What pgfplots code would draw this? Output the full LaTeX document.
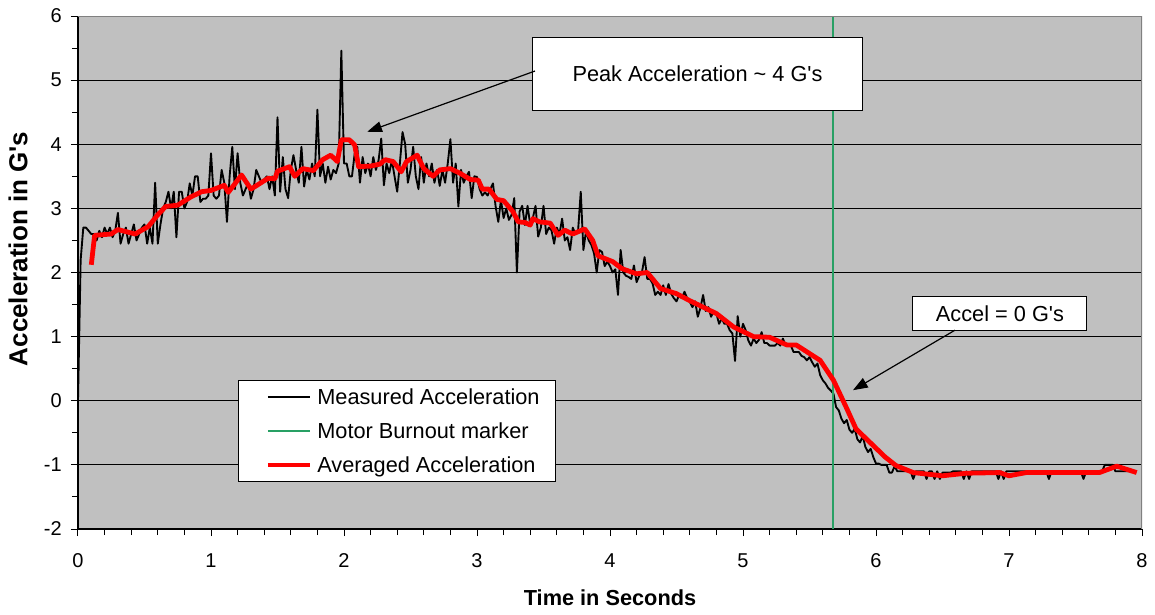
\documentclass[border=0pt]{standalone}
\usepackage{fontspec}
\setmainfont{Liberation Sans}
\usepackage{pgfplots}
\pgfplotsset{compat=1.18}
\usetikzlibrary{arrows.meta}
\definecolor{plotbg}{HTML}{C0C0C0}
\definecolor{mygreen}{RGB}{40,160,100}
\definecolor{bordergray}{HTML}{808080}
\begin{document}
\begin{tikzpicture}
\fill[white] (-58.5pt,-63.75pt) rectangle (807.75pt,396.75pt);
\useasboundingbox (-58.5pt,-63.75pt) rectangle (807.75pt,396.75pt);
\begin{axis}[
  at={(0pt,0pt)}, anchor=south west,
  scale only axis, width=798pt, height=384.75pt,
  xmin=0, xmax=8, ymin=-2, ymax=6,
  axis background/.style={fill=plotbg},
  axis x line*=bottom, axis y line*=left,
  axis line style={-, black, line width=0.9pt},
  xtick={0,...,8}, ytick={-2,...,6},
  minor x tick num=4, minor y tick num=1,
  tick align=outside, major tick length=5.25pt, minor tick length=4.5pt,
  tick style={black, line width=0.75pt},
  ymajorgrids, major grid style={black, line width=0.75pt},
  /pgf/number format/assume math mode=true,
  ticklabel style={font=\fontsize{15}{17}\selectfont},
  xticklabel style={inner sep=0pt, yshift=-12.75pt},
  yticklabel style={inner sep=0pt, xshift=-6.75pt},
  xlabel={Time in Seconds},
  xlabel style={font=\bfseries\fontsize{16.3}{19}\selectfont, at={(axis description cs:0.5,-0.1345)}, anchor=center},
  ylabel={Acceleration in G\textquotesingle s},
  ylabel style={font=\bfseries\fontsize{19.5}{22}\selectfont, at={(axis description cs:-0.0564,0.546)}, anchor=center},
  legend style={at={(0.1504,0.2904)}, anchor=north west, draw=black, line width=0.75pt, fill=white,
    inner xsep=20.25pt, inner ysep=6.6pt, row sep=13.9pt, column sep=3.75pt,
    font=\fontsize{16.3}{19}\selectfont,
    nodes={inner sep=0pt, text height=11.6pt, text depth=0pt}},
  legend cell align=left,
  legend image code/.code={\draw[#1] (0pt,0pt) -- (31.5pt,0pt);},
]
\addplot[black, line width=1.4pt, line join=round] coordinates {
(0,0) (0.02,2.2) (0.04,2.7) (0.06,2.7) (0.08,2.65) (0.1,2.6) (0.12,2.6) (0.14,2.5) (0.16,2.65) (0.18,2.55) (0.2,2.7) (0.22,2.6) (0.24,2.7) (0.26,2.55) (0.28,2.65) (0.3,2.93) (0.32,2.45) (0.34,2.6) (0.36,2.7) (0.38,2.45) (0.4,2.6) (0.42,2.75) (0.44,2.5) (0.46,2.6) (0.48,2.7)
(0.5,2.75) (0.52,2.45) (0.54,2.7) (0.56,2.45) (0.58,3.4) (0.6,2.45) (0.62,2.75) (0.64,3.0) (0.66,3.1) (0.68,3.26) (0.7,3.0) (0.72,3.26) (0.74,2.55) (0.76,3.26) (0.78,3.26) (0.8,3.0) (0.82,3.1) (0.84,3.39) (0.86,3.2) (0.88,3.5) (0.9,3.5) (0.92,3.1) (0.94,3.15) (0.96,3.15) (0.98,3.2)
(1,3.86) (1.02,3.2) (1.04,3.15) (1.06,3.2) (1.08,3.6) (1.1,3.4) (1.12,2.79) (1.14,3.5) (1.16,3.96) (1.18,3.3) (1.2,3.86) (1.22,3.4) (1.24,3.2) (1.26,3.3) (1.28,3.4) (1.3,3.15) (1.32,3.3) (1.34,3.6) (1.36,3.5) (1.38,3.4) (1.4,3.45) (1.42,3.5) (1.44,3.3) (1.46,3.5) (1.48,3.2)
(1.5,4.42) (1.52,3.26) (1.54,3.8) (1.56,3.3) (1.58,3.16) (1.6,3.6) (1.62,3.83) (1.64,3.6) (1.66,3.4) (1.68,3.96) (1.7,3.34) (1.72,3.6) (1.74,3.45) (1.76,3.7) (1.78,3.5) (1.8,4.54) (1.82,3.5) (1.84,3.7) (1.86,3.4) (1.88,3.65) (1.9,3.45) (1.92,3.6) (1.94,3.55) (1.96,3.7) (1.98,5.46)
(2,3.7) (2.02,3.7) (2.04,3.5) (2.06,3.5) (2.08,3.85) (2.1,3.96) (2.12,3.4) (2.14,3.8) (2.16,3.55) (2.18,3.7) (2.2,3.5) (2.22,3.8) (2.24,3.6) (2.26,3.75) (2.28,4.09) (2.3,3.36) (2.32,3.7) (2.34,3.55) (2.36,3.75) (2.38,3.5) (2.4,3.26) (2.42,3.7) (2.44,4.19) (2.46,4.0) (2.48,3.4)
(2.5,3.6) (2.52,3.96) (2.54,3.5) (2.56,3.3) (2.58,3.8) (2.6,3.4) (2.62,3.7) (2.64,3.5) (2.66,3.7) (2.68,3.4) (2.7,3.6) (2.72,3.35) (2.74,3.6) (2.76,3.4) (2.78,3.7) (2.8,4.08) (2.82,3.4) (2.84,3.7) (2.86,3.03) (2.88,3.6) (2.9,3.4) (2.92,3.5) (2.94,3.57) (2.96,3.16) (2.98,3.5)
(3,3.49) (3.02,3.3) (3.04,3.2) (3.06,3.25) (3.08,3.2) (3.1,3.3) (3.12,3.39) (3.14,3.03) (3.16,2.79) (3.18,3.13) (3.2,2.85) (3.22,3.0) (3.24,2.82) (3.26,2.9) (3.28,3.16) (3.3,2.0) (3.32,2.95) (3.34,3.04) (3.36,2.74) (3.38,3.04) (3.4,2.75) (3.42,2.85) (3.44,3.04) (3.46,2.56) (3.48,2.7)
(3.5,3.04) (3.52,2.6) (3.54,2.7) (3.56,2.66) (3.58,2.45) (3.6,2.7) (3.62,2.6) (3.64,2.84) (3.66,2.5) (3.68,2.55) (3.7,2.35) (3.72,2.7) (3.74,2.6) (3.76,2.65) (3.78,3.26) (3.8,2.35) (3.82,2.65) (3.84,2.5) (3.86,2.43) (3.88,2.3) (3.9,2.0) (3.92,2.35) (3.94,2.32) (3.96,2.1) (3.98,2.17)
(4,2.1) (4.02,2.0) (4.04,2.05) (4.06,1.65) (4.08,2.35) (4.1,2.0) (4.12,1.95) (4.14,1.93) (4.16,1.9) (4.18,2.11) (4.2,1.85) (4.22,1.95) (4.24,2.0) (4.26,2.24) (4.28,1.9) (4.3,1.9) (4.32,1.83) (4.34,1.65) (4.36,1.7) (4.38,1.65) (4.4,1.8) (4.42,1.65) (4.44,1.82) (4.46,1.67) (4.48,1.6)
(4.5,1.55) (4.52,1.65) (4.54,1.6) (4.56,1.7) (4.58,1.6) (4.6,1.54) (4.62,1.46) (4.64,1.55) (4.66,1.31) (4.68,1.45) (4.7,1.65) (4.72,1.4) (4.74,1.46) (4.76,1.31) (4.78,1.4) (4.8,1.36) (4.82,1.2) (4.84,1.28) (4.86,1.2) (4.88,1.2) (4.9,1.1) (4.92,1.05) (4.94,0.62) (4.96,1.32) (4.98,1.0)
(5,1.2) (5.02,1.1) (5.04,0.94) (5.06,0.86) (5.08,0.97) (5.1,0.9) (5.12,0.95) (5.14,1.07) (5.16,0.9) (5.18,0.9) (5.2,0.86) (5.22,0.86) (5.24,0.86) (5.26,0.9) (5.28,0.86) (5.3,0.97) (5.32,0.86) (5.34,0.86) (5.36,0.86) (5.38,0.76) (5.4,0.76) (5.42,0.76) (5.44,0.7) (5.46,0.68) (5.48,0.63)
(5.5,0.68) (5.52,0.6) (5.54,0.53) (5.56,0.58) (5.58,0.4) (5.6,0.32) (5.62,0.27) (5.64,0.2) (5.66,0.16) (5.68,0.11) (5.7,-0.1) (5.72,-0.15) (5.74,-0.28) (5.76,-0.35) (5.78,-0.3) (5.8,-0.45) (5.82,-0.5) (5.84,-0.44) (5.86,-0.6) (5.88,-0.65) (5.9,-0.55) (5.92,-0.72) (5.94,-0.8) (5.96,-0.75) (5.98,-0.88)
(6,-0.98) (6.02,-0.98) (6.04,-1.0) (6.06,-1.0) (6.08,-1.0) (6.1,-1.12) (6.12,-1.12) (6.14,-1.02) (6.16,-1.1) (6.18,-1.1) (6.2,-1.1) (6.22,-1.1) (6.24,-1.1) (6.26,-1.1) (6.28,-1.22) (6.3,-1.1) (6.32,-1.1) (6.34,-1.1) (6.36,-1.1) (6.38,-1.22) (6.4,-1.1) (6.42,-1.1) (6.44,-1.22) (6.46,-1.1) (6.48,-1.22)
(6.5,-1.12) (6.52,-1.12) (6.54,-1.12) (6.56,-1.12) (6.58,-1.1) (6.6,-1.1) (6.62,-1.1) (6.64,-1.1) (6.66,-1.22) (6.68,-1.1) (6.7,-1.22) (6.72,-1.1) (6.74,-1.1) (6.76,-1.1) (6.78,-1.1) (6.8,-1.1) (6.82,-1.1) (6.84,-1.1) (6.86,-1.1) (6.88,-1.1) (6.9,-1.1) (6.92,-1.22) (6.94,-1.1) (6.96,-1.22) (6.98,-1.1)
(7,-1.1) (7.28,-1.1) (7.3,-1.22) (7.32,-1.1) (7.54,-1.1) (7.56,-1.22) (7.58,-1.1) (7.7,-1.1) (7.72,-1.0) (7.78,-1.0) (7.8,-1.1) (7.96,-1.1)
};
\addlegendentry{\makebox[158pt][l]{Measured Acceleration}}
\addplot[draw=mygreen, line width=1.5pt] coordinates {(5.68,-2) (5.68,6)};
\addlegendentry{\makebox[158pt][l]{Motor Burnout marker}}
\addplot[red, line width=3.6pt, line join=round] coordinates {
(0.1,2.12) (0.125,2.58) (0.25,2.6) (0.3,2.67) (0.43,2.6) (0.53,2.72) (0.6,2.9) (0.66,3.03) (0.75,3.05) (0.85,3.18) (0.93,3.26) (1.0,3.28) (1.1,3.36) (1.13,3.25) (1.23,3.52) (1.3,3.3) (1.43,3.47) (1.48,3.46) (1.5,3.58) (1.59,3.65) (1.63,3.5) (1.69,3.62) (1.77,3.59) (1.84,3.76) (1.9,3.83) (1.95,3.73) (1.98,4.07) (2.04,4.07) (2.08,3.99) (2.11,3.65) (2.2,3.66) (2.27,3.69) (2.31,3.76) (2.37,3.73) (2.43,3.57) (2.47,3.73) (2.55,3.83) (2.6,3.62) (2.67,3.5) (2.72,3.6) (2.8,3.62) (2.87,3.55) (2.95,3.45) (3.01,3.44) (3.04,3.3) (3.09,3.3) (3.15,3.14) (3.2,3.12) (3.27,2.95) (3.31,2.79) (3.36,2.78) (3.4,2.74) (3.42,2.84) (3.47,2.79) (3.55,2.77) (3.61,2.58) (3.66,2.66) (3.72,2.6) (3.81,2.68) (3.87,2.5) (3.91,2.26) (4.02,2.17) (4.09,2.06) (4.2,1.98) (4.28,2.0) (4.38,1.75) (4.5,1.67) (4.6,1.56) (4.7,1.46) (4.8,1.36) (4.93,1.15) (5.08,1.0) (5.2,0.99) (5.33,0.87) (5.4,0.87) (5.58,0.63) (5.68,0.32) (5.78,-0.12) (5.85,-0.44) (6.07,-0.88) (6.15,-1.01) (6.28,-1.12) (6.5,-1.17) (6.68,-1.13) (6.93,-1.12) (7.0,-1.17) (7.13,-1.12) (7.68,-1.12) (7.81,-1.02) (7.96,-1.12)
};
\addlegendentry{\makebox[158pt][l]{Averaged Acceleration}}
\draw[bordergray, line width=0.9pt] (rel axis cs:0,1) -- (rel axis cs:1,1) -- (rel axis cs:1,0);
\draw[black, line width=0.75pt, fill=white] (axis cs:3.421,4.534) rectangle (axis cs:5.895,5.672);
\node[font=\fontsize{16.3}{19}\selectfont] at (axis cs:4.658,5.103) {Peak Acceleration \textasciitilde{} 4 G\textquotesingle s};
\draw[black, line width=0.9pt, -{Triangle[length=11pt,width=8pt]}] (axis cs:3.436,5.142) -- (axis cs:2.175,4.195);
\draw[black, line width=0.75pt, fill=white] (axis cs:6.278,1.101) rectangle (axis cs:7.586,1.62);
\node[font=\fontsize{16.3}{19}\selectfont] at (axis cs:6.932,1.36) {Accel = 0 G\textquotesingle s};
\draw[black, line width=0.9pt, -{Triangle[length=11pt,width=8pt]}] (axis cs:6.594,1.101) -- (axis cs:5.827,0.165);
\end{axis}
\end{tikzpicture}
\end{document}
